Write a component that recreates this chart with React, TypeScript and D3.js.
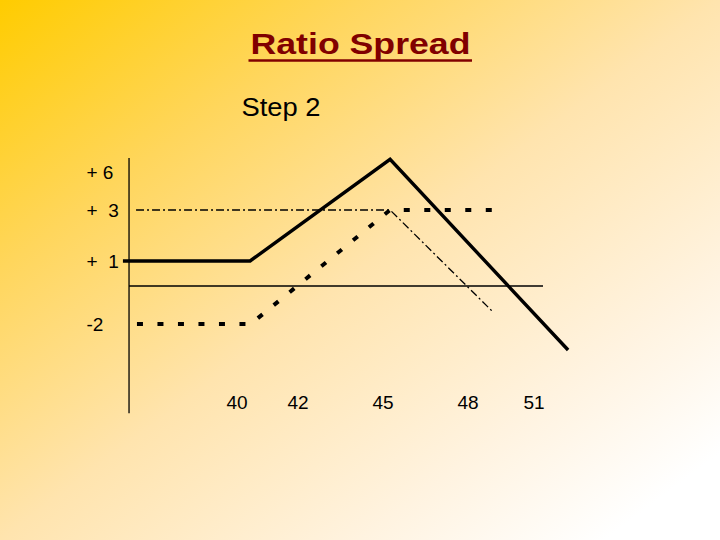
import React from "react";
import * as d3 from "d3";

// ---- data ----
const strikes = [40, 42, 45, 48, 51];
const strikeLabels = ["40", "42", "45", "48", "51"];
const profitLevels = [6, 3, 1, -2];
const profitLabels = ["+ 6", "+  3", "+  1", "-2"];

// combined ratio spread (solid)
const combinedX = [36.26, 40.43, 45.25, 52.55];
const combinedY = [1, 1, 7.0, -3.37];
// long call leg (thick dashed)
const longX = [36.72, 40.45, 45.25, 49.41];
const longY = [-2, -2, 3, 3];
// short calls leg (dash-dot)
const shortX = [36.69, 45.25, 49.14];
const shortY = [3, 3, -1.37];

const xExtent = [36.46, 51.41];
const yExtent = [7.1, -6.7];

const W = 720;
const H = 540;

export default function App() {
  // hand-drawn diagram: piecewise scales through the labelled positions
  const x = d3.scaleLinear().domain(strikes).range([237, 298, 383, 468, 534]);
  const y = d3.scaleLinear().domain([6, 3, 1, 0, -2]).range([172, 210, 261, 286, 324]);

  const line = d3
    .line<[number, number]>()
    .x((d) => x(d[0]))
    .y((d) => y(d[1]));

  const zip = (xs: number[], ys: number[]) => xs.map((v, i) => [v, ys[i]] as [number, number]);

  const font = "'Liberation Sans', Arial, sans-serif";

  return (
    <svg
      width={W}
      height={H}
      style={{ position: "absolute", left: 0, top: 0, display: "block" }}
    >
      <defs>
        <linearGradient id="bg" x1="0" y1="0" x2="1" y2="1">
          <stop offset="0" stopColor="#FFCC00" />
          <stop offset="0.25" stopColor="#FFD65C" />
          <stop offset="0.5" stopColor="#FFE4AE" />
          <stop offset="0.75" stopColor="#FFF3E0" />
          <stop offset="0.92" stopColor="#FFFFFF" />
          <stop offset="1" stopColor="#FFFFFF" />
        </linearGradient>
      </defs>
      <rect x={0} y={0} width={W} height={H} fill="url(#bg)" />

      {/* title */}
      <text
        x={360.5}
        y={53.5}
        textAnchor="middle"
        fontFamily={font}
        fontWeight="bold"
        fontSize={29}
        fill="#800000"
        textLength={220}
        lengthAdjust="spacingAndGlyphs"
      >
        Ratio Spread
      </text>
      <line x1={248.5} x2={472} y1={60.5} y2={60.5} stroke="#800000" strokeWidth={2.5} />

      <text
        x={241.5}
        y={115.5}
        fontFamily={font}
        fontSize={25}
        fill="#000"
        textLength={79}
        lengthAdjust="spacingAndGlyphs"
      >
        Step 2
      </text>

      {/* axes */}
      <line
        x1={x(xExtent[0])}
        x2={x(xExtent[0])}
        y1={y(yExtent[0])}
        y2={y(yExtent[1])}
        stroke="#000"
        strokeWidth={1.3}
      />
      <line
        x1={x(xExtent[0])}
        x2={x(xExtent[1])}
        y1={y(0)}
        y2={y(0)}
        stroke="#000"
        strokeWidth={1.3}
      />

      {/* y labels */}
      {profitLevels.map((v, i) => (
        <text
          key={"y" + v}
          x={86.5}
          y={y(v)}
          dy="0.35em"
          fontFamily={font}
          fontSize={19}
          fill="#000"
          style={{ whiteSpace: "pre" }}
        >
          {profitLabels[i]}
        </text>
      ))}

      {/* x labels */}
      {strikes.map((v, i) => (
        <text
          key={"x" + v}
          x={x(v)}
          y={408.5}
          textAnchor="middle"
          fontFamily={font}
          fontSize={19}
          fill="#000"
        >
          {strikeLabels[i]}
        </text>
      ))}

      {/* short calls: dash-dot */}
      <path
        d={line(zip(shortX, shortY)) || ""}
        fill="none"
        stroke="#000"
        strokeWidth={1.3}
        strokeDasharray="8,3,2,3"
      />
      {/* long call: thick dashed */}
      <path
        d={line(zip(longX, longY)) || ""}
        fill="none"
        stroke="#000"
        strokeWidth={4}
        strokeDasharray="6,14.5"
      />
      {/* combined: solid */}
      <path
        d={line(zip(combinedX, combinedY)) || ""}
        fill="none"
        stroke="#000"
        strokeWidth={3.4}
        strokeLinejoin="miter"
      />
    </svg>
  );
}
